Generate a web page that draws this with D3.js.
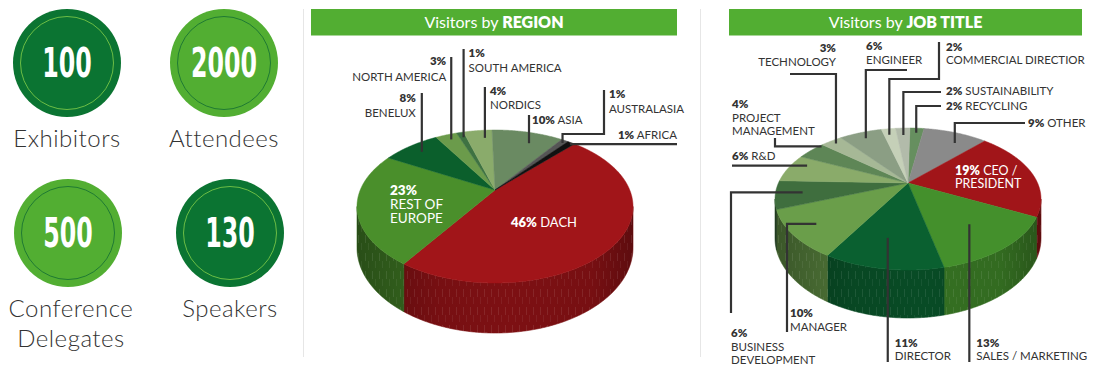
<!DOCTYPE html>
<html><head><meta charset="utf-8">
<script src="https://cdn.jsdelivr.net/npm/d3@7"></script>
<style>body{margin:0;background:#fff}svg{display:block}</style>
</head><body>
<svg id="chart" width="1094" height="368"></svg>
<script>
// ---------------- DATA ----------------
const statValues = [100, 2000, 500, 130];
const statLabels = ["Exhibitors", "Attendees", "Conference\nDelegates", "Speakers"];

const regionTitle = ["Visitors by ", "REGION"];
const regionNames = ["DACH", "REST OF\nEUROPE", "BENELUX", "NORTH AMERICA", "SOUTH AMERICA", "NORDICS", "ASIA", "AUSTRALASIA", "AFRICA"];
const regionValues = [46, 23, 8, 3, 1, 4, 10, 1, 1];

const jobTitle = ["Visitors by ", "JOB TITLE"];
const jobNames = ["RECYCLING", "OTHER", "CEO /\nPRESIDENT", "SALES / MARKETING", "DIRECTOR", "MANAGER", "BUSINESS\nDEVELOPMENT", "R&D", "PROJECT\nMANAGEMENT", "TECHNOLOGY", "ENGINEER", "COMMERCIAL DIRECTIOR", "SUSTAINABILITY"];
const jobValues = [2, 9, 19, 13, 11, 10, 6, 6, 4, 3, 6, 2, 2];

// ---------------- STYLE ----------------
const regionColors = ["#a11519", "#4a8f2b", "#0b5f2c", "#6b9b4b", "#3e7242", "#8aab6b", "#6a8a62", "#555555", "#111111"];
const jobColors = ["#668f5f", "#8a8a8a", "#a11519", "#44902c", "#0a6030", "#6a9e4a", "#3f6e3e", "#8aab6a", "#5e8656", "#a6b896", "#8b9e84", "#c5d0b8", "#b2bbaa"];
const statColors = ["#0b7432", "#52ae32", "#52ae32", "#0b7432"];
const ringColors = ["#6cbd45", "#1f7a32", "#1f7a32", "#6cbd45"];
const FONT = "Lato, 'Open Sans', sans-serif";
const TXT = "#333333";
const GREEN = "#52ae32";

const svg = d3.select("#chart");
const defs = svg.append("defs");

// texture pattern for pie sides
const pat = defs.append("pattern").attr("id", "dash").attr("patternUnits", "userSpaceOnUse")
  .attr("width", 7).attr("height", 18);
pat.append("line").attr("x1", 1.5).attr("x2", 1.5).attr("y1", 1).attr("y2", 9)
  .attr("stroke", "#fff").attr("stroke-opacity", 0.13).attr("stroke-width", 0.7);
pat.append("line").attr("x1", 4.5).attr("x2", 4.5).attr("y1", 9).attr("y2", 16)
  .attr("stroke", "#fff").attr("stroke-opacity", 0.09).attr("stroke-width", 0.7);

// ---------------- SEPARATORS ----------------
[303.5, 700.5].forEach(x => svg.append("line").attr("x1", x).attr("x2", x).attr("y1", 9).attr("y2", 357)
  .attr("stroke", "#e6e6e6").attr("stroke-width", 1));

// ---------------- STATS ----------------
const statPos = [[67, 63], [224, 63], [68, 233], [230, 233]];
const statG = svg.append("g");
const numTexts = [];
statValues.forEach((v, i) => {
  const [x, y] = statPos[i];
  const g = statG.append("g").attr("transform", `translate(${x},${y})`);
  g.append("circle").attr("r", 54).attr("fill", statColors[i]);
  g.append("circle").attr("r", 46.5).attr("fill", "none").attr("stroke", ringColors[i]).attr("stroke-width", 1);
  const t = g.append("text").attr("text-anchor", "middle").attr("y", 14)
    .attr("font-family", "'Liberation Sans Narrow','DejaVu Sans Condensed','Roboto',sans-serif")
    .attr("font-weight", 700).attr("font-size", 40).attr("fill", "#fff").text(v);
  numTexts.push(t);
  const lines = statLabels[i].split("\n");
  lines.forEach((s, j) => {
    g.append("text").attr("text-anchor", "middle").attr("x", i === 2 ? 3 : 0).attr("y", 84 + j * 30)
      .attr("font-family", FONT).attr("font-weight", 300).attr("font-size", 24)
      .attr("letter-spacing", 0.5).attr("fill", TXT).text(s);
  });
});
// squeeze numbers to condensed look: "2000" is ~66px wide in the reference
const w2000 = numTexts[1].node().getComputedTextLength();
const sx = 66 / w2000;
numTexts.forEach(t => t.attr("transform", `scale(${sx},1)`));

// ---------------- 3D PIE HELPERS ----------------
function makeProj(g) {
  const c = (2 * g.yApex - g.yTop - g.yBot) / (g.yBot - g.yTop);
  const a = g.yBot * (1 + c) - g.yApex;
  const k = g.rx * Math.sqrt(1 - c * c);
  const dd = g.depth * (1 + c);
  const f = (th, r, drop = 0) => {
    const u = r * Math.sin(th), v = -r * Math.cos(th), den = 1 + c * v;
    return [g.cx + k * u / den, (a * v + g.yApex) / den + drop * dd / den];
  };
  f.thR = Math.acos(c);
  f.thL = 2 * Math.PI - Math.acos(c);
  return f;
}
function arcPts(proj, a0, a1, drop) {
  const n = Math.max(2, Math.ceil((a1 - a0) / (Math.PI / 360)));
  return d3.range(n + 1).map(i => proj(a0 + (a1 - a0) * i / n, 1, drop));
}
const line = d3.line();

function drawPie(cfg) {
  const proj = makeProj(cfg.geom);
  const arcs = d3.pie().sort(null).value(d => d)
    .startAngle(cfg.start).endAngle(cfg.start + 2 * Math.PI)(cfg.values);
  const g = svg.append("g");

  // header
  g.append("rect").attr("x", cfg.header.x).attr("y", 9).attr("width", cfg.header.w).attr("height", 26.5).attr("fill", GREEN);
  const ht = g.append("text").attr("x", cfg.header.x + cfg.header.w / 2).attr("y", 28).attr("text-anchor", "middle")
    .attr("font-family", FONT).attr("font-size", 16).attr("fill", "#fff");
  ht.append("tspan").text(cfg.title[0]);
  ht.append("tspan").attr("font-weight", 800).text(cfg.title[1]);

  // sides
  const sideG = g.append("g");
  arcs.forEach((d, i) => {
    [0, 2 * Math.PI].forEach(off => {
      const a0 = Math.max(d.startAngle, proj.thR + off), a1 = Math.min(d.endAngle, proj.thL + off);
      if (a1 > a0) {
        const top = arcPts(proj, a0, a1, 0), bot = arcPts(proj, a0, a1, 1).reverse();
        sideG.append("path").attr("d", line(top.concat(bot)) + "Z")
          .attr("fill", d3.color(cfg.colors[i]).darker(0.7))
          .attr("stroke", d3.color(cfg.colors[i]).darker(0.7)).attr("stroke-width", 0.6);
      }
    });
  });
  // shading and texture over the whole visible side
  const gid = "shade" + cfg.id;
  const x0 = cfg.geom.cx - cfg.geom.rx, x1 = cfg.geom.cx + cfg.geom.rx;
  const lg = defs.append("linearGradient").attr("id", gid).attr("gradientUnits", "userSpaceOnUse")
    .attr("x1", x0).attr("x2", x1).attr("y1", 0).attr("y2", 0);
  [[0, 0.3], [0.3, 0.05], [0.55, 0], [0.85, 0.05], [1, 0.25]].forEach(([o, op]) =>
    lg.append("stop").attr("offset", o).attr("stop-color", "#000").attr("stop-opacity", op));
  const wTop = arcPts(proj, proj.thR, proj.thL, 0), wBot = arcPts(proj, proj.thR, proj.thL, 1).reverse();
  const wd = line(wTop.concat(wBot)) + "Z";
  sideG.append("path").attr("d", wd).attr("fill", `url(#${gid})`);
  sideG.append("path").attr("d", wd).attr("fill", "url(#dash)");

  // tops
  const topG = g.append("g");
  arcs.forEach((d, i) => {
    const pts = [proj(0, 0)].concat(arcPts(proj, d.startAngle, d.endAngle, 0));
    topG.append("path").attr("d", line(pts) + "Z").attr("fill", cfg.colors[i])
      .attr("stroke", cfg.colors[i]).attr("stroke-width", 0.5).attr("stroke-linejoin", "round");
  });

  // labels
  const labG = g.append("g");
  cfg.labels.forEach(L => {
    const d = arcs[L.i];
    let tx = L.tx;
    if (L.segs) {
      const th = d.startAngle + L.t * (d.endAngle - d.startAngle);
      let cur = proj(th, L.r);
      const pts = [cur];
      L.segs.forEach(s => { cur = s[0] === "V" ? [cur[0], s[1]] : [s[1], cur[1]]; pts.push(cur); });
      labG.append("path").attr("d", line(pts)).attr("fill", "none").attr("stroke", "#333").attr("stroke-width", 2.2);
      if (tx === undefined) tx = pts[0][0] + L.dx;
    }
    const pct = cfg.values[L.i] + "%";
    const lines = cfg.names[L.i].split("\n");
    const rows = L.inline ? [[pct, " " + lines[0]]].concat(lines.slice(1).map(s => [null, s]))
      : [[pct, null]].concat(lines.map(s => [null, s]));
    const lh = L.lh || 14;
    rows.forEach((r, j) => {
      const t = labG.append("text").attr("x", tx).attr("y", L.y0 + j * lh).attr("text-anchor", L.anchor || "start")
        .attr("font-family", FONT).attr("font-size", L.size || 11.5).attr("fill", L.color || TXT);
      if (r[0]) t.append("tspan").attr("font-weight", 800).text(r[0]);
      if (r[1]) t.append("tspan").text(r[1]);
    });
  });
}

// ---------------- REGION PIE ----------------
drawPie({
  id: "r", title: regionTitle, names: regionNames, values: regionValues, colors: regionColors,
  header: { x: 311, w: 366 },
  geom: { cx: 495, yTop: 130, yApex: 190, yBot: 283, rx: 138, depth: 50 },
  start: 43 * Math.PI / 180,
  labels: [
    { i: 0, tx: 544, anchor: "middle", y0: 227, inline: true, color: "#fff", size: 13 },
    { i: 1, tx: 390, y0: 195, lh: 14, color: "#fff", size: 13.5 },
    { i: 2, t: 0.5, r: 0.85, segs: [["V", 93]], dx: -6, anchor: "end", y0: 102, lh: 15 },
    { i: 3, t: 0.55, r: 0.9, segs: [["V", 57]], dx: -5, anchor: "end", y0: 65, lh: 16 },
    { i: 4, t: 0.6, r: 0.9, segs: [["V", 49]], dx: 5, y0: 57, lh: 15 },
    { i: 5, t: 0.7, r: 0.85, segs: [["V", 87]], dx: 5, y0: 95, lh: 14 },
    { i: 6, t: 0.62, r: 0.8, segs: [["V", 115]], dx: 3, y0: 124, inline: true },
    { i: 7, t: 0.6, r: 0.95, segs: [["V", 134], ["H", 604], ["V", 90]], tx: 609, y0: 98, lh: 15 },
    { i: 8, t: 0.6, r: 0.97, segs: [["H", 677]], tx: 677, anchor: "end", y0: 139, inline: true }
  ]
});

// ---------------- JOB TITLE PIE ----------------
drawPie({
  id: "j", title: jobTitle, names: jobNames, values: jobValues, colors: jobColors,
  header: { x: 729, w: 353 },
  geom: { cx: 908, yTop: 128, yApex: 183, yBot: 270, rx: 133, depth: 48 },
  start: 1 * Math.PI / 180,
  labels: [
    { i: 0, t: 0.5, r: 0.9, segs: [["V", 106], ["H", 941]], tx: 946, y0: 110, inline: true },
    { i: 1, t: 0.65, r: 0.8, segs: [["V", 123], ["H", 1025]], tx: 1028, y0: 127, inline: true },
    { i: 2, tx: 955, y0: 175, lh: 13, inline: true, color: "#fff", size: 12.5 },
    { i: 3, t: 0.5, r: 0.68, segs: [["V", 362]], dx: 7, y0: 347, lh: 13 },
    { i: 4, t: 0.55, r: 0.7, segs: [["V", 362]], dx: 7, y0: 347, lh: 13 },
    { i: 5, t: 0.5, r: 0.82, segs: [["H", 787], ["V", 332]], tx: 790, y0: 317, lh: 14 },
    { i: 6, t: 0.5, r: 0.8, segs: [["H", 731], ["V", 313]], tx: 731, y0: 337, lh: 13.5 },
    { i: 7, t: 0.7, r: 0.87, segs: [["H", 732]], tx: 732, y0: 160, inline: true },
    { i: 8, t: 0.9, r: 0.98, segs: [["H", 775], ["V", 138]], tx: 732, y0: 108, lh: 13.5 },
    { i: 9, t: 0.5, r: 0.93, segs: [["V", 74], ["H", 790]], tx: 836, anchor: "end", y0: 52, lh: 14 },
    { i: 10, t: 0.5, r: 0.87, segs: [["V", 70], ["H", 907]], tx: 866, y0: 50, lh: 14 },
    { i: 11, t: 0.4, r: 0.87, segs: [["V", 79], ["H", 939], ["V", 42]], tx: 946, y0: 51, lh: 13 },
    { i: 12, t: 0.5, r: 0.85, segs: [["V", 92], ["H", 941]], tx: 946, y0: 95, inline: true }
  ]
});
</script>
</body></html>
